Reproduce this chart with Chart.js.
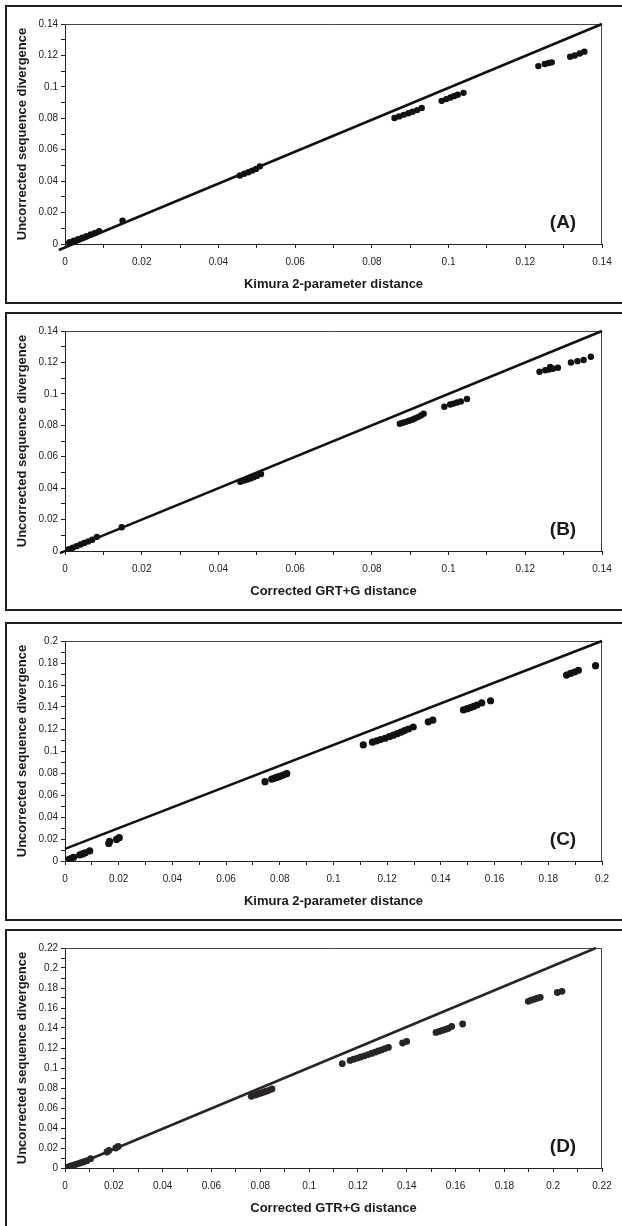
<!DOCTYPE html>
<html>
<head>
<meta charset="utf-8">
<script src="https://cdn.jsdelivr.net/npm/chart.js@4/dist/chart.umd.min.js"></script>
<style>
html,body{margin:0;padding:0;background:#fff;width:622px;height:1226px;overflow:hidden;position:relative;}
.frame{position:absolute;left:5px;width:660px;border:2px solid #1e1e1e;box-sizing:border-box;}
canvas{position:absolute;left:0;}
.tag{position:absolute;font:bold 19px 'Liberation Sans',Arial,sans-serif;color:#1a1a1a;transform:translate(-50%,-50%);line-height:1;white-space:nowrap;}
</style>
</head>
<body>
<div class="frame" style="top:5px;height:299px;"></div>
<div class="frame" style="top:312px;height:299px;"></div>
<div class="frame" style="top:622px;height:299px;"></div>
<div class="frame" style="top:929px;height:320px;"></div>
<canvas id="cA" width="622" height="300" style="top:0px"></canvas>
<canvas id="cB" width="622" height="300" style="top:307px"></canvas>
<canvas id="cC" width="622" height="300" style="top:617px"></canvas>
<canvas id="cD" width="622" height="300" style="top:924px"></canvas>
<div class="tag" style="left:563px;top:221px">(A)</div>
<div class="tag" style="left:563px;top:528px">(B)</div>
<div class="tag" style="left:563px;top:838px">(C)</div>
<div class="tag" style="left:563px;top:1145px">(D)</div>
<script>
// ---- Panel A: Kimura 2-parameter distance vs uncorrected ----
const aX = [0, 0.0012, 0.0023, 0.0034, 0.0045, 0.0056, 0.0067, 0.0078, 0.0089, 0.0150, 0.0456, 0.0467, 0.0478, 0.0488, 0.0498, 0.0508, 0.0859, 0.0871, 0.0883, 0.0895, 0.0906, 0.0918, 0.0930, 0.0982, 0.0994, 0.1005, 0.1015, 0.1024, 0.1039, 0.1234, 0.1251, 0.1261, 0.1269, 0.1317, 0.1329, 0.1342, 0.1354];
const aY = [0, 0.0011, 0.0021, 0.0031, 0.0040, 0.0050, 0.0060, 0.0070, 0.0082, 0.0149, 0.0436, 0.0447, 0.0457, 0.0467, 0.0478, 0.0494, 0.0802, 0.0812, 0.0822, 0.0832, 0.0842, 0.0852, 0.0866, 0.0911, 0.0922, 0.0932, 0.0942, 0.0950, 0.0962, 0.1132, 0.1145, 0.1152, 0.1156, 0.1192, 0.1200, 0.1212, 0.1224];
const aLineX = [-0.0016, 0.14];
const aLineY = [-0.0038, 0.14];

// ---- Panel B: Corrected GRT+G distance ----
const bX = [0, 0.0010, 0.0020, 0.0030, 0.0040, 0.0050, 0.0060, 0.0071, 0.0083, 0.0148, 0.0457, 0.0467, 0.0476, 0.0484, 0.0492, 0.0500, 0.0511, 0.0873, 0.0881, 0.0889, 0.0897, 0.0905, 0.0912, 0.0920, 0.0928, 0.0935, 0.0989, 0.1004, 0.1013, 0.1022, 0.1032, 0.1048, 0.1237, 0.1252, 0.1262, 0.1265, 0.1272, 0.1285, 0.1319, 0.1336, 0.1352, 0.1371];
const bY = [0, 0.0011, 0.0021, 0.0031, 0.0041, 0.0051, 0.0061, 0.0072, 0.0090, 0.0151, 0.0440, 0.0449, 0.0455, 0.0462, 0.0470, 0.0478, 0.0490, 0.0810, 0.0816, 0.0822, 0.0829, 0.0836, 0.0843, 0.0852, 0.0862, 0.0873, 0.0918, 0.0932, 0.0938, 0.0945, 0.0952, 0.0967, 0.1141, 0.1150, 0.1155, 0.1172, 0.1160, 0.1166, 0.1200, 0.1208, 0.1215, 0.1236];
const bLineX = [-0.0013, 0.14];
const bLineY = [-0.0014, 0.14];

// ---- Panel C: Kimura 2-parameter distance ----
const cX = [0, 0.0008, 0.0016, 0.0024, 0.0032, 0.0055, 0.0065, 0.0075, 0.0092, 0.0163, 0.0166, 0.0192, 0.0202, 0.0745, 0.0770, 0.0779, 0.0788, 0.0797, 0.0806, 0.0815, 0.0826, 0.1111, 0.1145, 0.1160, 0.1175, 0.1192, 0.1208, 0.1223, 0.1238, 0.1252, 0.1265, 0.1279, 0.1297, 0.1353, 0.1370, 0.1484, 0.1498, 0.1510, 0.1522, 0.1535, 0.1552, 0.1585, 0.1868, 0.1883, 0.1898, 0.1912, 0.1976];
const cY = [0, 0.0008, 0.0016, 0.0024, 0.0034, 0.0055, 0.0064, 0.0073, 0.0092, 0.0160, 0.0178, 0.0196, 0.0212, 0.0721, 0.0745, 0.0752, 0.0760, 0.0767, 0.0775, 0.0784, 0.0795, 0.1055, 0.1080, 0.1092, 0.1104, 0.1116, 0.1130, 0.1144, 0.1158, 0.1172, 0.1186, 0.1200, 0.1218, 0.1265, 0.1280, 0.1373, 0.1385, 0.1395, 0.1405, 0.1418, 0.1437, 0.1457, 0.1690, 0.1705, 0.1718, 0.1734, 0.1776];
const cLineX = [0, 0.2];
const cLineY = [0.011, 0.2];

// ---- Panel D: Corrected GTR+G distance ----
const dX = [0.0008, 0.0018, 0.0028, 0.0038, 0.0048, 0.0058, 0.0068, 0.0078, 0.0090, 0.0105, 0.0172, 0.0180, 0.0208, 0.0218, 0.0763, 0.0778, 0.0788, 0.0797, 0.0806, 0.0815, 0.0825, 0.0835, 0.0848, 0.1136, 0.1168, 0.1183, 0.1198, 0.1212, 0.1227, 0.1242, 0.1256, 0.1270, 0.1284, 0.1298, 0.1311, 0.1325, 0.1383, 0.1400, 0.1520, 0.1533, 0.1546, 0.1558, 0.1570, 0.1584, 0.1629, 0.1898, 0.1910, 0.1923, 0.1935, 0.1947, 0.2017, 0.2036];
const dY = [0.0007, 0.0015, 0.0023, 0.0031, 0.0039, 0.0047, 0.0055, 0.0063, 0.0073, 0.0093, 0.0160, 0.0175, 0.0200, 0.0215, 0.0717, 0.0728, 0.0738, 0.0745, 0.0752, 0.0760, 0.0768, 0.0777, 0.0790, 0.1043, 0.1076, 0.1088, 0.1099, 0.1110, 0.1122, 0.1134, 0.1146, 0.1158, 0.1170, 0.1182, 0.1194, 0.1206, 0.1250, 0.1266, 0.1356, 0.1366, 0.1376, 0.1386, 0.1396, 0.1416, 0.1440, 0.1667, 0.1678, 0.1688, 0.1698, 0.1707, 0.1755, 0.1767];
const dLineX = [0.0015, 0.2175];
const dLineY = [0, 0.22];

const yTitle = 'Uncorrected sequence divergence';
const FONT = "'Liberation Sans', Arial, sans-serif";

function fmt(v) {
  const k = Math.round(v * 100);
  if (k % 2 !== 0) return '';
  return String(+(k / 100).toFixed(2));
}

const plotBorder = {
  id: 'plotBorder',
  beforeDatasetsDraw(chart) {
    const {ctx, chartArea: a} = chart;
    ctx.save();
    ctx.strokeStyle = '#444';
    ctx.lineWidth = 1;
    ctx.beginPath();
    ctx.moveTo(a.left, a.top + 0.5);
    ctx.lineTo(a.right - 0.5, a.top + 0.5);
    ctx.lineTo(a.right - 0.5, a.bottom);
    ctx.stroke();
    ctx.restore();
  }
};

function axis(max, title, isX) {
  return {
    type: 'linear',
    min: 0,
    max: max,
    ticks: {
      stepSize: 0.01, autoSkip: false, maxRotation: 0, minRotation: 0,
      padding: isX ? 8 : 3, color: '#222',
      font: {family: FONT, size: 10},
      callback: fmt
    },
    grid: {drawOnChartArea: false, drawTicks: true, tickLength: 4, color: '#222', tickColor: '#222', tickWidth: 1},
    border: {display: true, color: '#222', width: 1},
    title: {
      display: true, text: title, color: '#1a1a1a',
      font: {family: FONT, size: 13, weight: 'bold'},
      padding: isX ? {top: 0, bottom: 8} : {top: 15, bottom: 0}
    },
    afterFit: isX ? (s) => { s.height = 56; } : (s) => { s.width = 65; }
  };
}

function makeChart(id, xs, ys, lx, ly, max, xTitle, radius, color) {
  new Chart(document.getElementById(id), {
    type: 'scatter',
    data: {
      datasets: [
        {
          data: xs.map((x, i) => ({x: x, y: ys[i]})),
          pointRadius: radius, pointHoverRadius: radius,
          backgroundColor: color, borderColor: color, borderWidth: 0,
          pointStyle: 'circle'
        },
        {
          data: lx.map((x, i) => ({x: x, y: ly[i]})),
          showLine: true, pointRadius: 0, borderColor: color, borderWidth: 2.5,
          clip: false
        }
      ]
    },
    options: {
      responsive: false,
      animation: false,
      devicePixelRatio: 1,
      layout: {padding: {left: 0, right: 20, top: 24, bottom: 0}},
      plugins: {legend: {display: false}, tooltip: {enabled: false}},
      scales: {
        x: axis(max, xTitle, true),
        y: axis(max, yTitle, false)
      }
    },
    plugins: [plotBorder]
  });
}

makeChart('cA', aX, aY, aLineX, aLineY, 0.14, 'Kimura 2-parameter distance', 3.2, '#111');
makeChart('cB', bX, bY, bLineX, bLineY, 0.14, 'Corrected GRT+G distance', 3.2, '#111');
makeChart('cC', cX, cY, cLineX, cLineY, 0.2, 'Kimura 2-parameter distance', 3.6, '#111');
makeChart('cD', dX, dY, dLineX, dLineY, 0.22, 'Corrected GTR+G distance', 3.4, '#2a2525');
</script>
</body>
</html>
